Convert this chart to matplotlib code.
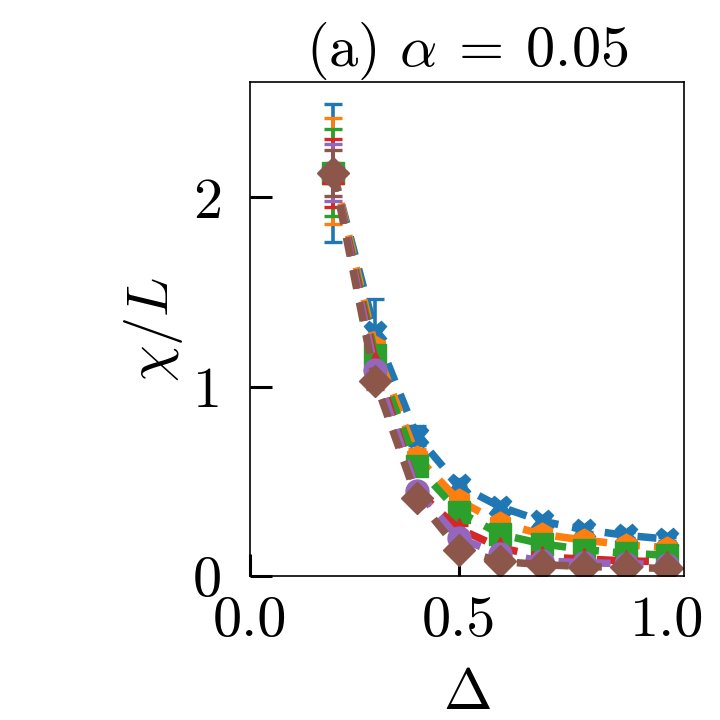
import numpy as np
import matplotlib
matplotlib.use("Agg")
import matplotlib.pyplot as plt

plt.rcParams["font.family"] = ["cmr10", "DejaVu Serif"]
plt.rcParams["mathtext.fontset"] = "cm"
plt.rcParams["axes.formatter.use_mathtext"] = True
plt.rcParams["lines.scale_dashes"] = False

# data
delta = [0.2, 0.3, 0.4, 0.5, 0.6, 0.7, 0.8, 0.9, 1.0]

chi_blue = [2.13, 1.29, 0.74, 0.48, 0.365, 0.29, 0.245, 0.215, 0.195]
chi_orange = [2.14, 1.21, 0.63, 0.40, 0.28, 0.22, 0.19, 0.165, 0.15]
chi_green = [2.13, 1.17, 0.58, 0.34, 0.22, 0.17, 0.14, 0.12, 0.11]
chi_red = [2.13, 1.13, 0.45, 0.25, 0.15, 0.10, 0.09, 0.08, 0.075]
chi_purple = [2.13, 1.09, 0.45, 0.20, 0.115, 0.08, 0.07, 0.065, 0.06]
chi_brown = [2.13, 1.03, 0.41, 0.14, 0.077, 0.06, 0.05, 0.045, 0.04]

err_blue = [0.365, 0.175, 0.05, 0.03, 0.02, 0.02, 0.015, 0.015, 0.01]
err_orange = [0.28, 0.10, 0.04, 0.02, 0.02, 0.015, 0.01, 0.01, 0.01]
err_green = [0.23, 0.08, 0.03, 0.02, 0.015, 0.01, 0.01, 0.01, 0.01]
err_red = [0.18, 0.06, 0.03, 0.02, 0.01, 0.01, 0.01, 0.01, 0.01]
err_purple = [0.15, 0.05, 0.02, 0.015, 0.01, 0.01, 0.01, 0.01, 0.01]
err_brown = [0.12, 0.04, 0.02, 0.01, 0.01, 0.01, 0.01, 0.01, 0.01]

series = [
    (chi_blue, err_blue, "X", "tab:blue"),
    (chi_orange, err_orange, "h", "tab:orange"),
    (chi_green, err_green, "s", "tab:green"),
    (chi_red, err_red, "^", "tab:red"),
    (chi_purple, err_purple, "o", "tab:purple"),
    (chi_brown, err_brown, "D", "tab:brown"),
]

fig = plt.figure(figsize=(7.2, 7.2), dpi=100)
ax = fig.add_axes([250 / 720, 144 / 720, 434 / 720, 494 / 720])

for y, e, m, c in series:
    ax.errorbar(delta, y, yerr=e, fmt=m, ls="--", dashes=(13.7, 10.1),
                color=c, lw=5.4, ms=16.5, elinewidth=2.6, capsize=6.2,
                capthick=2.4)

ax.set_xlim(0, 1.04)
ax.set_ylim(0, 2.61)
ax.set_xticks([0.0, 0.5, 1.0])
ax.set_yticks([0, 1, 2])
ax.set_xticklabels(["0.0", "0.5", "1.0"])
ax.set_yticklabels(["0", "1", "2"])
ax.tick_params(direction="in", length=16, width=2.2, labelsize=42)
ax.tick_params(axis="x", pad=14)
ax.tick_params(axis="y", pad=20)
for s in ax.spines.values():
    s.set_linewidth(1.2)

ax.set_xlabel(r"$\Delta$", fontsize=42, labelpad=16)
ax.set_ylabel(r"$\chi/L$", fontsize=42, labelpad=6)
ax.set_title(r"(a) $\alpha\:=\:0.05$", fontsize=42, pad=10)

fig.savefig("out.png", dpi=100)
